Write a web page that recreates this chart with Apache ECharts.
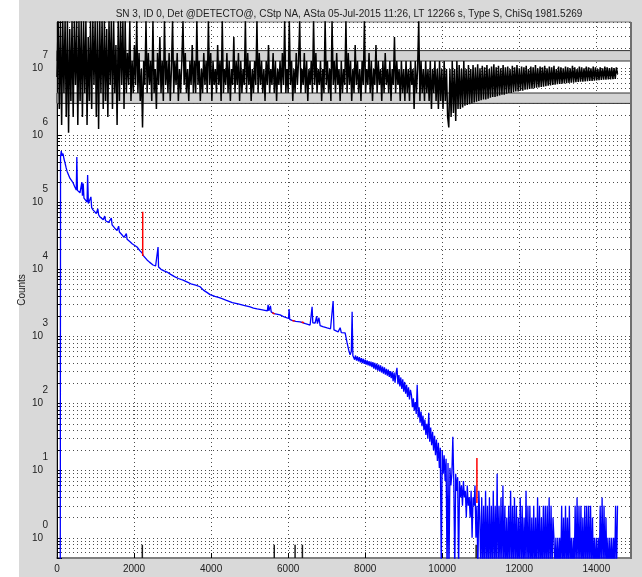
<!DOCTYPE html>
<html>
<head>
<meta charset="utf-8">
<title>Spectrum fit</title>
<script src="https://cdn.jsdelivr.net/npm/echarts@6.0.0/dist/echarts.min.js"></script>
<style>
  html, body { margin: 0; padding: 0; background: #fff; }
  #chart { width: 642px; height: 577px; }
</style>
</head>
<body>
<div id="chart"></div>
<script>
// values
const titleText = 'SN 3, ID 0, Det @DETECTO@, CStp NA, ASta 05-Jul-2015 11:26, LT 12266 s, Type S, ChiSq 1981.5269';
const channelMax = 14900;
const channelTick = 2000;
const countMin = 0.5;
const countMax = 4.84e7;

// spectrum up to the drop near ch 7700, [channel, counts]
const spectrumHead = [
  [0, 0], [85, 0], [92, 4.7e5], [110, 5.8e5], [132, 4.9e5], [156, 5.3e5], [182, 4.4e5], [208, 3.85e5],
  [235, 3.3e5], [260, 2.9e5], [300, 2.55e5], [338, 2.26e5], [380, 2.1e5], [416, 1.95e5], [460, 1.7e5],
  [500, 1.52e5], [515, 4.7e5], [530, 1.5e5], [560, 1.42e5], [597, 1.38e5], [630, 1.3e5], [645, 2.0e5],
  [660, 1.25e5], [680, 1.9e5], [700, 1.15e5], [740, 1.08e5], [780, 1.0e5], [795, 2.55e5], [815, 9.6e4],
  [850, 9.0e4], [880, 1.2e5], [900, 8.3e4], [935, 7.7e4], [980, 7.2e4], [1020, 6.8e4], [1060, 8.0e4],
  [1080, 6.5e4], [1117, 6.0e4], [1160, 5.8e4], [1200, 5.5e4], [1240, 6.2e4], [1260, 5.3e4], [1300, 5.1e4],
  [1340, 5.0e4], [1376, 4.9e4], [1410, 5.8e4], [1430, 4.6e4], [1455, 4.3e4], [1500, 4.1e4], [1560, 3.8e4],
  [1600, 4.4e4], [1620, 3.6e4], [1680, 3.3e4], [1740, 3.0e4], [1800, 3.4e4], [1820, 2.8e4], [1896, 2.57e4],
  [1950, 2.4e4], [2000, 2.3e4], [2078, 2.15e4], [2150, 1.9e4], [2207, 1.76e4], [2240, 1.6e4], [2280, 1.5e4],
  [2337, 1.38e4], [2400, 1.28e4], [2493, 1.16e4], [2560, 1.12e4], [2610, 1.1e4], [2623, 2.15e4], [2636, 1.08e4],
  [2700, 1.0e4], [2780, 9.5e3], [2857, 9.1e3], [2950, 8.4e3], [3050, 7.8e3], [3150, 7.3e3], [3272, 6.9e3],
  [3400, 6.4e3], [3500, 6.0e3], [3600, 5.8e3], [3714, 5.5e3], [3800, 4.9e3], [3900, 4.5e3], [3973, 4.2e3],
  [4100, 3.95e3], [4233, 3.76e3], [4400, 3.45e3], [4550, 3.2e3], [4700, 3.05e3], [4850, 2.9e3], [5012, 2.76e3],
  [5100, 2.65e3], [5194, 2.57e3], [5300, 2.5e3], [5460, 2.4e3], [5480, 2.95e3], [5500, 2.4e3], [5540, 2.85e3],
  [5560, 2.32e3], [5636, 2.18e3], [5791, 2.1e3], [5900, 1.95e3], [6010, 1.85e3], [6025, 2.57e3], [6040, 1.8e3],
  [6100, 1.74e3], [6200, 1.68e3], [6311, 1.65e3], [6450, 1.55e3], [6570, 1.48e3], [6610, 1.5e3], [6622, 2.76e3],
  [6640, 1.6e3], [6700, 1.58e3], [6740, 2.0e3], [6760, 1.55e3], [6800, 1.9e3], [6830, 1.45e3], [6900, 1.4e3],
  [7012, 1.34e3], [7100, 1.3e3], [7150, 1.28e3], [7168, 3.38e3], [7190, 1.25e3], [7240, 1.22e3], [7298, 1.17e3],
  [7350, 1.35e3], [7380, 1.14e3], [7479, 1.13e3], [7531, 800], [7580, 600], [7609, 532], [7640, 600],
  [7661, 2.33e3], [7680, 520]
];

// rest of the spectrum, one count every tailStep channels from tailStart
const tailStart = 7700;
const tailStep = 25;
const tailCounts = [
  540, 450, 520, 435, 500, 425, 490, 410, 475, 400, 465, 390, 450, 380, 440, 370, 430, 360, 420, 350,
  415, 330, 405, 320, 395, 310, 380, 300, 370, 290, 355, 280, 345, 270, 330, 260, 320, 250, 305, 240,
  300, 215, 290, 205, 280, 340, 195, 265, 180, 245, 165, 230, 150, 210, 140, 190, 125, 175, 115, 160,
  135, 88, 120, 78, 105, 70, 190, 62, 88, 52, 76, 46, 66, 40, 58, 34, 50, 30, 73, 27,
  44, 24, 38, 20, 33, 17, 29, 14, 26, 11, 22, 0, 20, 9, 17, 7, 15, 0, 13, 0,
  11, 6, 9, 32, 7, 0, 9, 5, 8, 0, 7, 4, 6, 3, 7, 4, 5, 2, 6, 3,
  4, 2, 5, 1, 4, 3, 6, 1, 3, 0, 5, 2, 0, 4, 0, 3, 0, 5, 0, 3,
  0, 4, 0, 3, 0, 5, 0, 3, 0, 9, 0, 3, 0, 4, 0, 6, 0, 3, 0, 2,
  0, 3, 0, 5, 0, 3, 0, 4, 0, 3, 0, 2, 0, 4, 0, 3, 0, 2, 0, 5,
  0, 3, 0, 3, 0, 2, 0, 3, 0, 2, 0, 4, 0, 3, 0, 2, 0, 3, 0, 3,
  0, 3, 0, 4, 0, 3, 0, 2, 1, 0, 1, 0, 1, 0, 1, 0, 3, 0, 2, 0,
  3, 0, 2, 0, 3, 0, 1, 0, 1, 0, 3, 0, 4, 0, 3, 0, 3, 0, 2, 0,
  3, 0, 3, 0, 3, 0, 3, 0, 2, 0, 1, 0, 1, 0, 1, 0, 3, 0, 4, 0,
  3, 0, 2, 0, 1, 0, 1, 0, 1, 0, 1, 0, 3, 0, 3
];

// red fitted regions, each a pair of [channel, counts]
const fitSegments = [
  [[2225, 72000], [2225, 15800]],
  [[5590, 2250], [5650, 2170]],
  [[6110, 1730], [6170, 1700]],
  [[6350, 1640], [6410, 1600]],
  [[10900, 15.5], [10900, 3.3]]
];
const peakMarkerChannels = [2215, 5640, 6180, 6370, 10880];

// residuals (sigma), one every residualStep channels from 0
const residualStep = 30;
const residuals = [
  0, 7, -4, 7, -6, 7, -2, 7, -5, 7, -7, 6, -3, 7, -5, 7, -1, 7, -6, 7,
  -3, 7, -5, 7, -2, 7, -6, 5, -3, 7, -4, 7, -1, 7, -5, 7, -6.5, 7, -2, 7,
  -4, 7, -3, 6, -5, 7, -1, 7, -4, 7, -2, 4, -6, 7, -3, 7, -1, 7, -4, 7,
  -2, 3, -1, 7, -3, 2, -2, 4, -1, 7, -2, 3, -3, 1, -6.3, 2, -1, 7, -2, 3,
  -1, 2, -3, 7, -2, 1, -4, 3, -1, 5, -2, 2, -3, 7, -1, 2, -2, 3, -3, 1,
  7, -2, 2, -1, 3, -3, 1, -2, 2, 7, -1, 3, -2, 1, -3, 2, -1, 4, -2, 2,
  -2, 7, -1, 2, -3, 1, -2, 3, -1, 2, -2, 7, -1, 3, -3, 2, -1, 1, -2, 4,
  -1, 2, -3, 7, -2, 1, -1, 3, -2, 2, -3, 1, -1, 5, -2, 2, -1, 3, -3, 2,
  -2, 1, -1, 7, -2, 3, -1, 2, -3, 1, -2, 2, -1, 7, -2, 3, -1, 2, -2, 1,
  -3, 2, -1, 4, -2, 1, -1, 3, -2, 2, -3, 1, -1, 2, -2, 3, -1, 7, -2, 1,
  -2, 7, -1, 2, -3, 1, -2, 3, -1, 2, 7, -2, 1, -1, 3, -2, 2, -3, 1, -1,
  2, -2, 7, -1, 3, -2, 1, -1, 2, -3, 1, -2, 7, -1, 2, -2, 1, -3, 7, -1,
  2, -2, 3, -1, 1, -3, 2, -2, 1, -1, 7, -2, 3, -1, 2, -3, 1, -2, 4, -1,
  2, -2, 1, -3, 2, -1, 7, -2, 1, -1, 3, -2, 2, -3, 1, -1, 4, -2, 2, -1,
  1, -3, 2, -2, 3, -1, 1, -2, 2, -3, 1, -1, 5, -2, 2, -1, 1, -3, 2, -2,
  1, -3, 2, -2, 1, -3, 2, -1, 1, -4, 2, -2, 1, 7, -3, 2, -2, 1, -3, 2,
  -2, 1, -3, 2, -4, 1, -2, 2, -3, 1, -4, 2, -3, 1, -4, 2, -3, 1, -5, -6.3,
  1, -5, 2, -4.5, 1, -5.5, 2, -4, 1.5, -4, 1, -3.8, 2, -3.6, 1, -3.5, 1.5, -3.4, 1, -3.3,
  1.5, -3.2, 1.2, -3.1, 1.6, -3, 1.1, -2.9, 1.4, -2.8, 1.2, -2.8, 1.5, -2.7, 1, -2.6, 1.3, -2.5, 1.6, -2.5,
  1.2, -2.4, 1.4, -2.3, 1.1, -2.2, 1.5, -2.2, 1.2, -2.1, 1.3, -2, 1, -2, 1.4, -1.9, 1.2, -1.8, 1.5, -1.8,
  1.1, -1.7, 1.3, -1.7, 1.2, -1.6, 1.4, -1.55, 1, -1.5, 1.3, -1.45, 1.2, -1.4, 1.5, -1.35, 1.1, -1.3, 1.3, -1.25,
  1.2, -1.2, 1.4, -1.15, 1.1, -1.1, 1.3, -1.05, 1.2, -1, 1.4, -0.95, 1, -0.9, 1.3, -0.88, 1.2, -0.85, 1.1, -0.8,
  1.3, -0.78, 1.2, -0.75, 1.1, -0.72, 1.4, -0.7, 1.2, -0.66, 1, -0.63, 1.3, -0.6, 1.2, -0.58, 1.1, -0.55, 1.3, -0.52,
  1.2, -0.5, 1.1, -0.48, 1.3, -0.45, 1.2, -0.42, 1, -0.4, 1.2, -0.38, 1.1, -0.35, 1.3, -0.33, 1.2, -0.3, 1.1, -0.3,
  1.2, -0.28, 1.1, -0.25, 1.2, 0.4
];
const residualLimit = 6.875;
const bandInner = 2;
const bandOuter = 3.3;

// zero counts have no place on a log axis, park them under the bottom edge
const zeroFloor = 0.3;
const toPlot = c => (c > 0 ? c : zeroFloor);

const spectrum = spectrumHead.map(p => [p[0], toPlot(p[1])])
  .concat(tailCounts.map((c, i) => [tailStart + i * tailStep, toPlot(c)]));

const fitData = [];
fitSegments.forEach(s => { fitData.push(s[0], s[1], [s[1][0], '-']); });

const markerData = [];
peakMarkerChannels.forEach(ch => { markerData.push([ch, countMin], [ch, 0.79], [ch, '-']); });

const residualData = residuals.map((v, i) => [i * residualStep, v]);

const font = '"Liberation Sans", Arial, sans-serif';
const dotted = { color: '#4d4d4d', width: 1, type: [1, 3] };

const chart = echarts.init(document.getElementById('chart'));
const option = {
  animation: false,
  backgroundColor: '#d9d9d9',
  textStyle: { fontFamily: font },
  title: {
    text: titleText,
    left: 344,
    top: 4,
    textAlign: 'center',
    textStyle: { fontSize: 10, fontWeight: 'normal', color: '#222', fontFamily: font }
  },
  graphic: [
    { type: 'rect', left: 0, top: 0, z: -1, shape: { width: 19, height: 577 }, style: { fill: '#fff' } },
    // darker right edge of the axes box
    { type: 'rect', left: 630, top: 22, z: 10, shape: { width: 2, height: 537 }, style: { fill: '#6e6e6e' } }
  ],
  grid: [
    { left: 57, right: 11, top: 22, bottom: 19, show: true, backgroundColor: '#fff', borderColor: '#777', borderWidth: 1 },
    { left: 57, right: 11, top: 22, height: 110 }
  ],
  xAxis: [
    {
      type: 'value', min: 0, max: channelMax, interval: channelTick,
      axisLine: { onZero: false, lineStyle: { color: '#808080', width: 2 } },
      axisTick: { inside: true, length: 5, lineStyle: { color: '#000' } },
      axisLabel: {
        margin: 6, fontSize: 10, color: '#222', showMaxLabel: false,
        formatter: v => (v % channelTick === 0 ? String(v) : '')
      },
      splitLine: { show: true, lineStyle: dotted }
    },
    { type: 'value', gridIndex: 1, min: 0, max: channelMax, show: false }
  ],
  yAxis: [
    {
      type: 'log', logBase: 10, min: countMin, max: countMax,
      name: 'Counts', nameLocation: 'middle', nameGap: 30, nameRotate: 90, nameMoveOverlap: false,
      nameTextStyle: { fontSize: 10, color: '#222' },
      axisLine: { show: true, onZero: false, lineStyle: { color: '#000', width: 1 } },
      axisTick: { inside: true, length: 5, lineStyle: { color: '#000' } },
      minorTick: { show: true, splitNumber: 9, length: 3, lineStyle: { color: '#000' } },
      axisLabel: {
        margin: 9,
        formatter: v => {
          const e = Math.round(Math.log10(v));
          if (Math.abs(Math.log10(v) - e) > 1e-6) return '';
          return '{e|' + e + '}\n{b|10}\n{s| }';
        },
        rich: {
          e: { fontSize: 10, lineHeight: 13, color: '#222', fontFamily: font },
          b: { fontSize: 10, lineHeight: 13, color: '#222', fontFamily: font, padding: [0, 5, 0, 0] },
          s: { fontSize: 10, lineHeight: 13 }
        }
      },
      splitLine: { show: true, lineStyle: dotted },
      minorSplitLine: { show: true, lineStyle: dotted }
    },
    { type: 'value', gridIndex: 1, min: -residualLimit, max: residualLimit, show: false }
  ],
  series: [
    {
      name: 'spectrum', type: 'line', data: spectrum, showSymbol: false, silent: true, z: 3,
      lineStyle: { color: '#0000ff', width: 1.3 }
    },
    {
      name: 'fit', type: 'line', data: fitData, showSymbol: false, silent: true, z: 4,
      lineStyle: { color: '#ff0000', width: 1.5 }
    },
    {
      name: 'peaks', type: 'line', data: markerData, showSymbol: false, silent: true, z: 5,
      lineStyle: { color: '#1a1a1a', width: 1.5 }
    },
    {
      name: 'bands', type: 'line', xAxisIndex: 1, yAxisIndex: 1, data: [], silent: true, z: 2,
      markArea: {
        silent: true,
        itemStyle: { color: '#d3d3d3', borderColor: '#333', borderWidth: 1 },
        data: [
          [{ yAxis: bandInner }, { yAxis: bandOuter }],
          [{ yAxis: -bandOuter }, { yAxis: -bandInner }]
        ]
      }
    },
    {
      name: 'residual', type: 'line', xAxisIndex: 1, yAxisIndex: 1, data: residualData,
      showSymbol: false, silent: true, z: 6,
      lineStyle: { color: '#000', width: 1.5 }
    }
  ]
};
chart.setOption(option);
</script>
</body>
</html>
